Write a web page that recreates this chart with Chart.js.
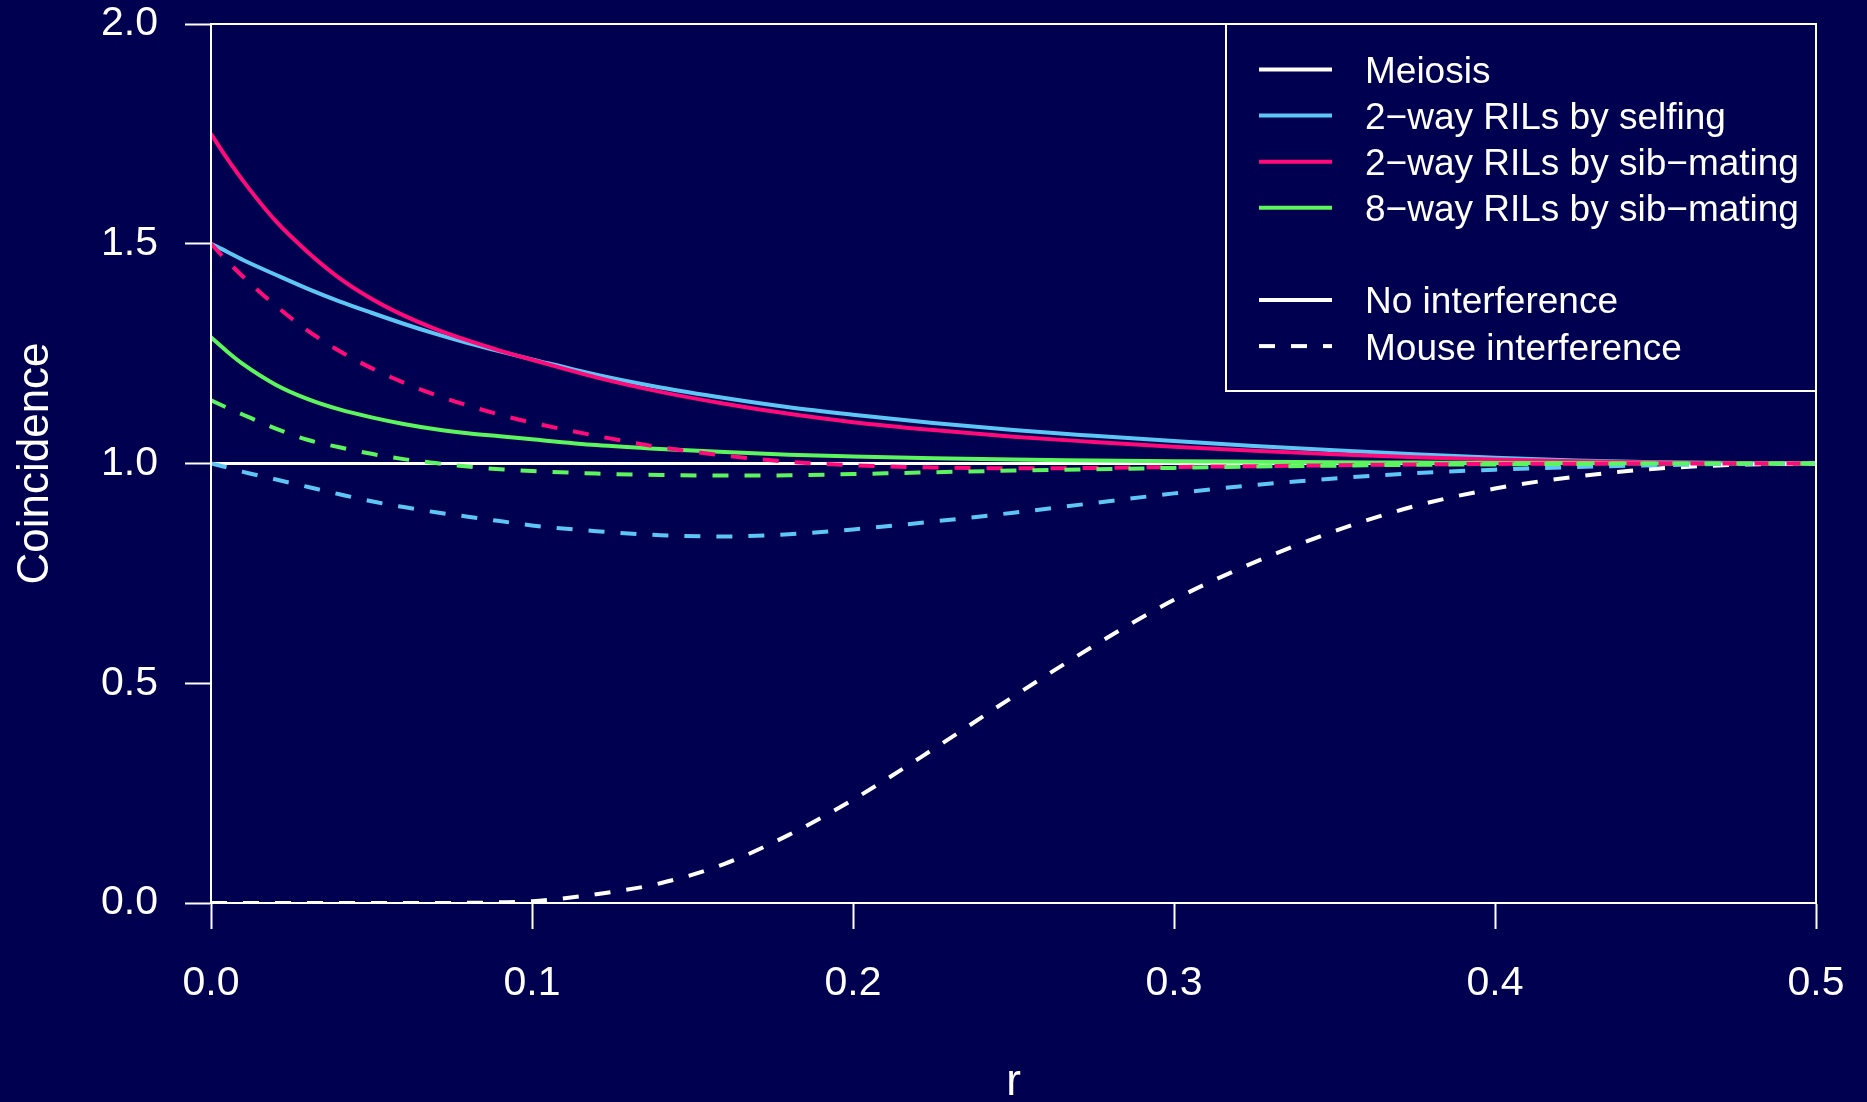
<!DOCTYPE html>
<html><head><meta charset="utf-8">
<script src="https://cdn.jsdelivr.net/npm/chart.js@4.4.1/dist/chart.umd.min.js"></script>
<style>html,body{margin:0;padding:0;background:#000050;overflow:hidden}canvas{display:block}</style>
</head><body>
<canvas id="c" width="1867" height="1102"></canvas>
<script>
// recombination fraction grid
const r = [0, 0.005, 0.01, 0.02, 0.03, 0.04, 0.05, 0.06, 0.07, 0.08, 0.09, 0.1, 0.12, 0.14, 0.16, 0.18, 0.2, 0.225, 0.25, 0.275, 0.3, 0.325, 0.35, 0.375, 0.4, 0.425, 0.45, 0.475, 0.5];

const meiosisNoInt = [1,1,1,1,1,1,1,1,1,1,1,1,1,1,1,1,1,1,1,1,1,1,1,1,1,1,1,1,1];
const meiosisMouse = [0,0,0,0,0,0,0,0,0,0.0005,0.0015,0.004,0.020,0.045,0.089,0.155,0.235,0.350,0.470,0.585,0.690,0.775,0.846,0.903,0.943,0.970,0.988,0.997,1.0];

const selfNoInt = [1.500,1.482,1.463,1.430,1.398,1.369,1.343,1.318,1.295,1.274,1.255,1.237,1.202,1.173,1.149,1.128,1.111,1.092,1.076,1.063,1.051,1.040,1.030,1.021,1.013,1.007,1.003,1.001,1.0];
const selfMouse = [1.0,0.991,0.981,0.964,0.947,0.930,0.914,0.901,0.889,0.879,0.869,0.859,0.846,0.837,0.834,0.839,0.850,0.868,0.888,0.910,0.932,0.951,0.966,0.978,0.986,0.992,0.996,0.999,1.0];

const sibNoInt = [1.750,1.694,1.643,1.553,1.482,1.422,1.375,1.337,1.306,1.280,1.257,1.236,1.196,1.163,1.136,1.113,1.094,1.076,1.061,1.049,1.038,1.029,1.021,1.014,1.009,1.005,1.002,1.001,1.0];
const sibMouse = [1.500,1.461,1.425,1.360,1.303,1.256,1.217,1.184,1.156,1.132,1.111,1.093,1.063,1.037,1.018,1.004,0.996,0.991,0.989,0.990,0.992,0.994,0.996,0.998,0.999,0.9995,1.0,1.0,1.0];

const eightNoInt = [1.287,1.255,1.226,1.180,1.147,1.123,1.105,1.090,1.078,1.069,1.062,1.055,1.042,1.033,1.026,1.020,1.016,1.012,1.009,1.007,1.005,1.004,1.003,1.002,1.001,1.001,1.0,1.0,1.0];
const eightMouse = [1.144,1.127,1.111,1.080,1.054,1.037,1.022,1.010,1.001,0.993,0.987,0.983,0.977,0.974,0.9725,0.973,0.976,0.980,0.984,0.987,0.990,0.993,0.995,0.997,0.998,0.999,1.0,1.0,1.0];

const xTickValues = [0, 0.1, 0.2, 0.3, 0.4, 0.5];
const xTickLabels = ["0.0", "0.1", "0.2", "0.3", "0.4", "0.5"];
const yTickValues = [0, 0.5, 1, 1.5, 2];
const yTickLabels = ["0.0", "0.5", "1.0", "1.5", "2.0"];

const legendLabels = ["Meiosis", "2\u2212way RILs by selfing", "2\u2212way RILs by sib\u2212mating", "8\u2212way RILs by sib\u2212mating", null, "No interference", "Mouse interference"];

const WHITE = '#ffffff', BLUE = '#5ec6f5', PINK = '#ff0a7a', GREEN = '#5df55d', BG = '#000050';
const legendColors = [WHITE, BLUE, PINK, GREEN, null, WHITE, WHITE];
const legendDashed = [false, false, false, false, false, false, true];

const DASH = [16, 16];
const FONT = '"Liberation Sans", Arial, Helvetica, sans-serif';

const toXY = ys => r.map((x, i) => ({x: x, y: ys[i]}));

const series = [
  {data: meiosisNoInt, color: WHITE, dash: false, w: 3},
  {data: selfNoInt, color: BLUE, dash: false, w: 4},
  {data: sibNoInt, color: PINK, dash: false, w: 4},
  {data: eightNoInt, color: GREEN, dash: false, w: 4},
  {data: meiosisMouse, color: WHITE, dash: true, w: 4},
  {data: selfMouse, color: BLUE, dash: true, w: 4},
  {data: sibMouse, color: PINK, dash: true, w: 4},
  {data: eightMouse, color: GREEN, dash: true, w: 4}
];

const datasets = series.map((s, i) => ({
  data: toXY(s.data),
  borderColor: s.color,
  borderWidth: s.w,
  borderDash: s.dash ? DASH : [],
  borderCapStyle: 'butt',
  pointRadius: 0,
  fill: false,
  cubicInterpolationMode: 'monotone',
  order: series.length - i
}));

const framePlugin = {
  id: 'frame',
  afterDatasetsDraw(chart) {
    const {ctx, chartArea: a} = chart;
    ctx.save();
    ctx.strokeStyle = WHITE;
    ctx.lineWidth = 2;
    ctx.strokeRect(a.left, a.top, a.right - a.left, a.bottom - a.top);

    // legend (R-style, top right, inside plot)
    const boxL = a.right - 590, boxT = a.top, boxR = a.right, boxB = a.top + 367;
    ctx.fillStyle = BG;
    ctx.fillRect(boxL, boxT, boxR - boxL, boxB - boxT);
    ctx.strokeRect(boxL, boxT, boxR - boxL, boxB - boxT);
    const rowH = 46.1, firstRow = a.top + 45.5;
    ctx.font = '37px ' + FONT;
    ctx.textBaseline = 'alphabetic';
    ctx.textAlign = 'left';
    legendLabels.forEach((lab, i) => {
      if (lab === null) return;
      const y = firstRow + i * rowH;
      ctx.beginPath();
      ctx.strokeStyle = legendColors[i];
      ctx.lineWidth = 4;
      ctx.lineCap = 'butt';
      ctx.setLineDash(legendDashed[i] ? DASH : []);
      ctx.moveTo(boxL + 33, y);
      ctx.lineTo(boxL + 106, y);
      ctx.stroke();
      ctx.setLineDash([]);
      ctx.fillStyle = WHITE;
      ctx.fillText(lab, boxL + 139, y + 13.4);
    });
    ctx.restore();
  }
};

new Chart(document.getElementById('c'), {
  type: 'line',
  data: {datasets: datasets},
  options: {
    responsive: false,
    animation: false,
    devicePixelRatio: 1,
    layout: {padding: {top: 24, right: 51, left: 0, bottom: 0}},
    plugins: {legend: {display: false}, tooltip: {enabled: false}},
    scales: {
      x: {
        type: 'linear', min: 0, max: 0.5,
        afterFit: s => { s.height = 199; s.paddingLeft = 0; s.paddingRight = 0; },
        afterBuildTicks: s => { s.ticks = xTickValues.map(v => ({value: v})); },
        ticks: {
          color: WHITE, padding: 30, maxRotation: 0, autoSkip: false,
          font: {family: FONT, size: 41},
          callback: (v) => xTickLabels[xTickValues.findIndex(t => Math.abs(t - v) < 1e-9)]
        },
        grid: {drawOnChartArea: false, drawTicks: true, tickLength: 26, tickColor: WHITE, tickWidth: 2, color: WHITE},
        border: {display: true, color: WHITE, width: 2},
        title: {display: true, text: 'r', color: WHITE, font: {family: FONT, size: 44, lineHeight: 1}, padding: {top: 0, bottom: -3}}
      },
      y: {
        type: 'linear', min: 0, max: 2,
        afterFit: s => { s.width = 211; s.paddingTop = 0; s.paddingBottom = 0; },
        afterBuildTicks: s => { s.ticks = yTickValues.map(v => ({value: v})); },
        ticks: {
          color: WHITE, padding: 27, autoSkip: false,
          font: {family: FONT, size: 41},
          callback: (v) => yTickLabels[yTickValues.findIndex(t => Math.abs(t - v) < 1e-9)]
        },
        grid: {drawOnChartArea: false, drawTicks: true, tickLength: 26, tickColor: WHITE, tickWidth: 2, color: WHITE},
        border: {display: true, color: WHITE, width: 2},
        title: {display: true, text: 'Coincidence', color: WHITE, font: {family: FONT, size: 44, lineHeight: 1}, padding: {top: 14, bottom: 0}}
      }
    }
  },
  plugins: [framePlugin]
});
</script>
</body></html>
